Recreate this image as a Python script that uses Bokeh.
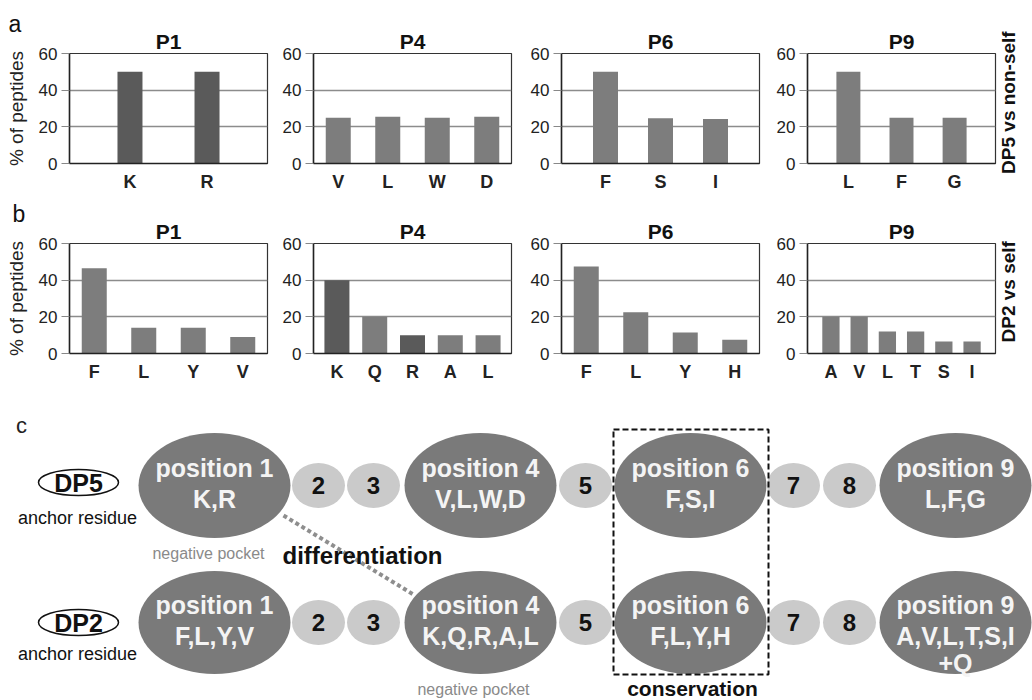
from math import pi
from bokeh.plotting import figure
from bokeh.layouts import row, column
from bokeh.models import Range1d, FactorRange, LinearAxis, FixedTicker, Title
from bokeh.core.properties import value
from bokeh.embed import file_html
from bokeh.resources import INLINE

FONT = "Liberation Sans"

# ---------------- data (panels a and b) ----------------
panel_titles = ["P1", "P4", "P6", "P9"]
y_ticks = [0, 20, 40, 60]

a_p1_cats = ["K", "R"]
a_p1_vals = [50, 50]
a_p4_cats = ["V", "L", "W", "D"]
a_p4_vals = [25, 25.5, 25, 25.5]
a_p6_cats = ["F", "S", "I"]
a_p6_vals = [50, 24.7, 24.3]
a_p9_cats = ["L", "F", "G"]
a_p9_vals = [50, 25, 25]

b_p1_cats = ["F", "L", "Y", "V"]
b_p1_vals = [46.5, 14, 14, 9]
b_p4_cats = ["K", "Q", "R", "A", "L"]
b_p4_vals = [40, 20, 10, 10, 10]
b_p6_cats = ["F", "L", "Y", "H"]
b_p6_vals = [47.5, 22.5, 11.5, 7.5]
b_p9_cats = ["A", "V", "L", "T", "S", "I"]
b_p9_vals = [20, 20, 12, 12, 6.5, 6.5]

row_side_labels = ["DP5 vs non-self", "DP2 vs self"]
row_letters = ["a", "b"]
y_label = "% of peptides"

# ---------------- data (panel c) ----------------
positions = [1, 2, 3, 4, 5, 6, 7, 8, 9]
anchor_positions = [1, 4, 6, 9]
allele_names = ["DP5", "DP2"]
dp5_residues = ["K,R", "V,L,W,D", "F,S,I", "L,F,G"]
dp2_residues = ["F,L,Y,V", "K,Q,R,A,L", "F,L,Y,H", "A,V,L,T,S,I"]
dp2_extra = "+Q"

# ---------------- styles / geometry ----------------
MID = "#7d7d7d"
DARK = "#5a5a5a"
dark_bars = {("a", 0): ["K", "R"], ("b", 1): ["K", "R"]}
# total outer padding of each categorical axis (in category units)
bar_pad = {("a", 0): 0.57, ("a", 1): 0.0, ("a", 2): 0.6, ("a", 3): 0.54,
           ("b", 0): 0.0, ("b", 1): 0.24, ("b", 2): 0.0, ("b", 3): 0.66}
bar_px = {"a": [25, 25, 25, 25], "b": [25, 25, 25, 18]}

# (width, min_border_left, min_border_right) of the four bar figures
geom = [(270, 69, 3), (244, 43, 3), (248, 47, 3), (270, 45, 29)]
# (height, border_top, border_bottom) of the two chart rows
row_geom = {"a": (195, 53, 32), "b": (190, 48, 32)}
letter_offset = {"a": -61, "b": -57}
side_label_tick = {"a": 28, "b": 6}
W = 1032


def title(text, **kw):
    return Title(text=text, text_font=FONT, text_color="#111111", **kw)


def bar_chart(rowkey, i, cats, vals):
    width, left, right = geom[i]
    height, top, bottom = row_geom[rowkey]
    pad = bar_pad[(rowkey, i)]
    p = figure(width=width, height=height,
               x_range=FactorRange(factors=cats, range_padding=pad / 2,
                                   range_padding_units="absolute"),
               y_range=Range1d(0, 60), title=None,
               output_backend="svg", toolbar_location=None,
               min_border_left=left, min_border_right=right,
               min_border_top=top, min_border_bottom=bottom)
    frame_w = width - left - right
    spacing = frame_w / (len(cats) + pad)
    dk = dark_bars.get((rowkey, i), [])
    colors = [DARK if c in dk else MID for c in cats]
    p.vbar(x=cats, top=vals, width=bar_px[rowkey][i] / spacing,
           fill_color=colors, line_color=None)

    p.add_layout(title(panel_titles[i], align="center", text_font_size="21px",
                       text_font_style="bold", standoff=1), "above")

    p.yaxis.ticker = y_ticks
    p.yaxis.major_tick_in = 0
    p.yaxis.major_tick_out = 8
    p.yaxis.minor_tick_line_color = None
    p.yaxis.major_tick_line_color = "#888888"
    p.yaxis.axis_line_color = "#222222"
    p.yaxis.axis_line_width = 1.5
    p.yaxis.major_label_text_font = FONT
    p.yaxis.major_label_text_font_size = "17px"
    p.yaxis.major_label_text_color = "#222222"
    p.yaxis.major_label_standoff = 4

    p.xaxis.major_tick_line_color = None
    p.xaxis.minor_tick_line_color = None
    p.xaxis.axis_line_color = "#222222"
    p.xaxis.axis_line_width = 1.5
    p.xaxis.major_label_text_font = FONT
    p.xaxis.major_label_text_font_size = "18px"
    p.xaxis.major_label_text_font_style = "bold"
    p.xaxis.major_label_text_color = "#222222"
    p.xaxis.major_label_standoff = 2

    p.xgrid.visible = False
    p.ygrid.grid_line_color = "#8c8c8c"
    p.ygrid.grid_line_width = 1.5
    p.outline_line_color = "#333333"
    p.outline_line_width = 1.2

    if i == 0:
        p.yaxis.axis_label = y_label
        p.yaxis.axis_label_text_font = FONT
        p.yaxis.axis_label_text_font_size = "19px"
        p.yaxis.axis_label_text_font_style = "normal"
        p.yaxis.axis_label_text_color = "#222222"
        p.yaxis.axis_label_standoff = 9
        # panel letter, stacked above the P1 title
        p.add_layout(title(row_letters[0 if rowkey == "a" else 1], align="left",
                           offset=letter_offset[rowkey], text_font_size="23px",
                           text_font_style="normal", standoff=-18), "above")
    if i == 3:
        t = side_label_tick[rowkey]
        ax = LinearAxis(ticker=FixedTicker(ticks=[t]),
                        major_label_overrides={t: row_side_labels[0 if rowkey == "a" else 1]},
                        major_label_orientation=pi / 2,
                        axis_line_color=None, major_tick_line_color=None,
                        minor_tick_line_color=None,
                        major_label_text_font=FONT,
                        major_label_text_font_size="19px",
                        major_label_text_font_style="bold",
                        major_label_text_color="#111111",
                        major_label_standoff=7)
        p.add_layout(ax, "right")
    return p


row_a_data = [(a_p1_cats, a_p1_vals), (a_p4_cats, a_p4_vals),
              (a_p6_cats, a_p6_vals), (a_p9_cats, a_p9_vals)]
row_b_data = [(b_p1_cats, b_p1_vals), (b_p4_cats, b_p4_vals),
              (b_p6_cats, b_p6_vals), (b_p9_cats, b_p9_vals)]

figs_a = [bar_chart("a", i, c, v) for i, (c, v) in enumerate(row_a_data)]
figs_b = [bar_chart("b", i, c, v) for i, (c, v) in enumerate(row_b_data)]

# ---------------- panel c (schematic) ----------------
pos_x = [214, 318, 373, 480, 585, 690, 793, 849, 955]
row_y = [485, 622]
big_h = [105, 103]
BIG_FILL = "#7a7a7a"
SMALL_FILL = "#cacaca"
C_TOP = 385

fc = figure(width=W, height=700 - C_TOP, x_range=Range1d(0, W),
            y_range=Range1d(700, C_TOP), output_backend="svg",
            toolbar_location=None, min_border=0, title=None,
            x_axis_location=None, y_axis_location=None)
fc.grid.visible = False
fc.outline_line_color = None

# differentiation dotted connector (behind everything)
fc.line(x=[283, 413], y=[515, 594], line_color="#8e8e8e", line_width=4,
        line_dash="4 3")

ex, ey, ew, eh, ecol = [], [], [], [], []
for r in range(2):
    for k, n in enumerate(positions):
        big = n in anchor_positions
        ex.append(pos_x[k])
        ey.append(row_y[r])
        ew.append(152 if big else 53)
        eh.append(big_h[r] if big else 45)
        ecol.append(BIG_FILL if big else SMALL_FILL)
fc.ellipse(x=ex, y=ey, width=ew, height=eh, fill_color=ecol, line_color=None)

# anchor text
tx, ty, tt = [], [], []
for r, res in enumerate([dp5_residues, dp2_residues]):
    for j, n in enumerate(anchor_positions):
        cx = pos_x[positions.index(n)]
        tx += [cx, cx]
        ty += [row_y[r] - 18, row_y[r] + 13]
        tt += ["position %d" % n, res[j]]
tx.append(pos_x[8]); ty.append(row_y[1] + 40); tt.append(dp2_extra)
fc.text(x=tx, y=ty, text=tt, text_font=value(FONT), text_font_size="25px",
        text_font_style="bold", text_color="#f4f4f4", text_align="center",
        text_baseline="middle")

# small position numbers
nx, ny, nt = [], [], []
for r in range(2):
    for k, n in enumerate(positions):
        if n not in anchor_positions:
            nx.append(pos_x[k]); ny.append(row_y[r]); nt.append(str(n))
fc.text(x=nx, y=ny, text=nt, text_font=value(FONT), text_font_size="24px",
        text_font_style="bold", text_color="#111111", text_align="center",
        text_baseline="middle")

# allele ovals
oval_y = [482, 622]
fc.ellipse(x=[78, 78], y=oval_y, width=80, height=26, fill_color="white",
           line_color="#111111", line_width=1.5)
fc.text(x=[78, 78], y=oval_y, text=allele_names, text_font=value(FONT),
        text_font_size="25px", text_font_style="bold", text_color="#111111",
        text_align="center", text_baseline="middle")
fc.text(x=[77, 77], y=[517, 653], text=["anchor residue", "anchor residue"],
        text_font=value(FONT), text_font_size="18px", text_color="#111111",
        text_align="center", text_baseline="middle")

# annotations
fc.text(x=[208, 473], y=[553, 689], text=["negative pocket", "negative pocket"],
        text_font=value(FONT), text_font_size="16px", text_color="#8a8a8a",
        text_align="center", text_baseline="alphabetic")
fc.text(x=[362], y=[555], text=["differentiation"], text_font=value(FONT),
        text_font_size="24px", text_font_style="bold", text_color="#111111",
        text_align="center", text_baseline="middle")
fc.text(x=[692], y=[688], text=["conservation"], text_font=value(FONT),
        text_font_size="21px", text_font_style="bold", text_color="#111111",
        text_align="center", text_baseline="alphabetic")
fc.text(x=[21], y=[425], text=["c"], text_font=value(FONT),
        text_font_size="22px", text_color="#222222", text_align="center",
        text_baseline="middle")

# conservation box
fc.quad(left=[613], right=[768], top=[429], bottom=[674], fill_color=None,
        line_color="#111111", line_width=2, line_dash="6 3")

layout = column(row(*figs_a), row(*figs_b), fc)
open("out.html", "w").write(file_html(layout, INLINE))
